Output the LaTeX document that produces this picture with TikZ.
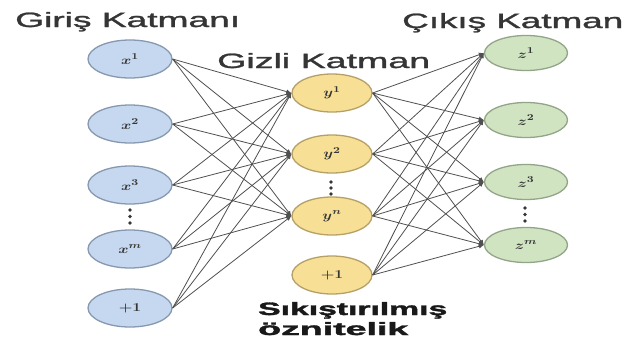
\documentclass[tikz,border=0pt]{standalone}
\usepackage{fontspec}
\setmainfont{Liberation Sans}
\newfontfamily\headfont[FakeBold=1.2]{Liberation Sans}
\newfontfamily\boldhead[FakeBold=1.6]{Liberation Sans Bold}
\usepackage{graphicx}
\usetikzlibrary{shapes.geometric,arrows.meta}
\definecolor{bluefill}{HTML}{C6D8EF}
\definecolor{blueline}{HTML}{8799B0}
\definecolor{yelfill}{HTML}{F8DF96}
\definecolor{yelline}{HTML}{B5A067}
\definecolor{grnfill}{HTML}{D0E4C2}
\definecolor{grnline}{HTML}{93A588}
\definecolor{edgecol}{HTML}{505050}
\definecolor{txtcol}{HTML}{353535}
\newcommand{\nlab}[1]{\scalebox{1.3}[1]{\boldmath$#1$}}
\begin{document}
\begin{tikzpicture}[x=1pt,y=-1pt,
  neuron/.style={ellipse, draw, line width=1.3pt, minimum width=84pt, minimum height=38pt,
    inner sep=0pt, font=\fontsize{13}{13}\selectfont, text=txtcol},
  inp/.style={neuron, fill=bluefill, draw=blueline},
  hid/.style={neuron, fill=yelfill, draw=yelline, minimum width=80pt, minimum height=38pt},
  outp/.style={neuron, fill=grnfill, draw=grnline, minimum width=83pt, minimum height=35pt},
  conn/.style={draw=edgecol, line width=0.8pt, -{Latex[length=5pt,width=4.5pt]}},
  heading/.style={anchor=base west, inner sep=0pt, text=txtcol},
  dotc/.style={fill=txtcol}]
\useasboundingbox (0,0) rectangle (627,341);
\fill[white] (0,0) rectangle (627,341);

% input layer
\node[inp] (x1) at (130,59)  {\nlab{x^{1}}};
\node[inp] (x2) at (130,124) {\nlab{x^{2}}};
\node[inp] (x3) at (130,185) {\nlab{x^{3}}};
\node[inp] (xm) at (130,249) {\nlab{x^{m}}};
\node[inp] (xb) at (130,308) {\nlab{+1}};

% hidden layer
\node[hid] (y1) at (332,93)  {\nlab{y^{1}}};
\node[hid] (y2) at (332,154) {\nlab{y^{2}}};
\node[hid] (yn) at (332,216) {\nlab{y^{n}}};
\node[hid] (yb) at (332,275) {\nlab{+1}};

% output layer
\node[outp] (z1) at (526,53)  {\nlab{z^{1}}};
\node[outp] (z2) at (526,120) {\nlab{z^{2}}};
\node[outp] (z3) at (526,182) {\nlab{z^{3}}};
\node[outp] (zm) at (526,245) {\nlab{z^{m}}};

% vertical dots
\foreach \yy in {210,216.5,223} \fill[dotc] (130,\yy) circle (1.8pt);
\foreach \yy in {182,188,194} \fill[dotc] (331,\yy) circle (1.8pt);
\foreach \yy in {208,214.5,221} \fill[dotc] (525,\yy) circle (1.8pt);

% connections
\foreach \s in {x1,x2,x3,xm,xb}
  \foreach \t in {y1,y2,yn}
    \draw[conn] (\s.east) -- (\t.west);
\foreach \s in {y1,y2,yn,yb}
  \foreach \t in {z1,z2,z3,zm}
    \draw[conn] (\s.east) -- (\t.west);

% headings
\node[heading] (h1) at (15,27)  {\resizebox{225pt}{15pt}{\headfont Giriş Katmanı}};
\node[heading] (h2) at (217,68) {\resizebox{213pt}{15pt}{\headfont Gizli Katman}};
\node[heading] (h3) at (402,28) {\resizebox{221pt}{15pt}{\headfont Çıkış Katman}};
\node[heading, text=black!90] (h4) at (258,315) {\resizebox{189pt}{13pt}{\boldhead Sıkıştırılmış}};
\node[heading, text=black!90] (h5) at (258,335) {\resizebox{150pt}{13pt}{\boldhead öznitelik}};
\end{tikzpicture}
\end{document}
